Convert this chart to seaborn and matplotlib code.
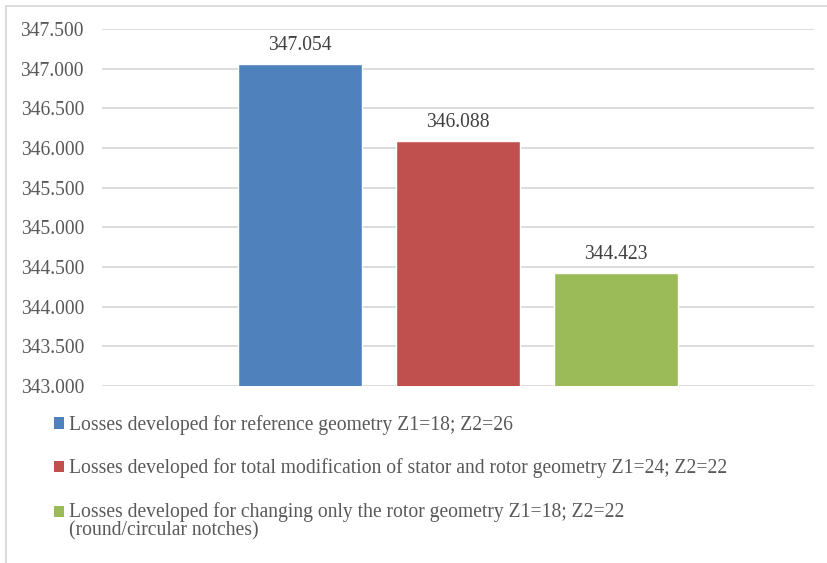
import matplotlib
matplotlib.use("Agg")
import matplotlib.pyplot as plt
from matplotlib.patches import Rectangle
from matplotlib.legend_handler import HandlerPatch
from matplotlib.lines import Line2D
import seaborn as sns
import pandas as pd

# Losses for the three machine geometries
series_labels = [
    "Losses developed for reference geometry Z1=18; Z2=26",
    "Losses developed for total modification of stator and rotor geometry Z1=24; Z2=22",
    "Losses developed for changing only the rotor geometry Z1=18; Z2=22\n(round/circular notches)",
]
losses = [347.054, 346.088, 344.423]
bar_colors = ["#4F81BD", "#C0504D", "#9BBB59"]
y_ticks = [343.0, 343.5, 344.0, 344.5, 345.0, 345.5, 346.0, 346.5, 347.0, 347.5]

sns.set_theme(style="white")
plt.rcParams["font.family"] = ["Liberation Serif", "DejaVu Serif"]

FS = 14.1
W, H = 827, 563
fig = plt.figure(figsize=(W / 100, H / 100), dpi=100)
ax = fig.add_axes([102 / W, 1 - 386 / H, (814 - 102) / W, (386 - 29) / H])

df = pd.DataFrame({"series": series_labels, "loss": losses})
sns.barplot(data=df, x="series", y="loss", hue="series", order=series_labels,
            hue_order=series_labels, palette=bar_colors, width=0.783,
            dodge=False, legend=False, saturation=1, ax=ax)

ax.set_ylim(y_ticks[0], y_ticks[-1])
ax.set_xlim(-1.251, 3.251)
ax.set_yticks(y_ticks)
ax.set_yticklabels([f"{v:.3f}" for v in y_ticks])
ax.set_xticks([])
ax.set_xlabel("")
ax.set_ylabel("")
ax.tick_params(axis="y", length=0, pad=13, labelsize=FS, labelcolor="#595959")
ax.yaxis.grid(True, color="#D9D9D9", linewidth=1.3)
ax.set_axisbelow(True)
for s in ax.spines.values():
    s.set_visible(False)

for cont in ax.containers:
    ax.bar_label(cont, fmt="%.3f", padding=6.5, fontsize=FS, color="#404040")

# Legend below the plot area
handles = [Rectangle((0, 0), 1, 1, facecolor=c, edgecolor="none") for c in bar_colors]


def raised_patch(legend, orig_handle, xdescent, ydescent, width, height, fontsize):
    return Rectangle((-xdescent, -ydescent + 0.5 * fontsize), width, height)


handler_map = {handles[2]: HandlerPatch(patch_func=raised_patch)}
leg = fig.legend(handles, series_labels, loc="upper left",
                 bbox_to_anchor=(54 / W, 1 - 415 / H), frameon=False,
                 fontsize=FS, handlelength=0.5, handleheight=0.5,
                 handletextpad=0.28, labelspacing=1.2, borderpad=0,
                 borderaxespad=0, handler_map=handler_map)
for t in leg.get_texts():
    t.set_color("#595959")
    t.set_linespacing(1.0)

# Outer chart frame
fig.add_artist(Line2D([6 / W, 1.0], [1 - 5.5 / H, 1 - 5.5 / H], transform=fig.transFigure,
                      color="#D9D9D9", linewidth=1.3))
fig.add_artist(Line2D([6 / W, 6 / W], [0.0, 1 - 5.5 / H], transform=fig.transFigure,
                      color="#D9D9D9", linewidth=1.3))

fig.savefig("out.png", dpi=100, facecolor="white")
